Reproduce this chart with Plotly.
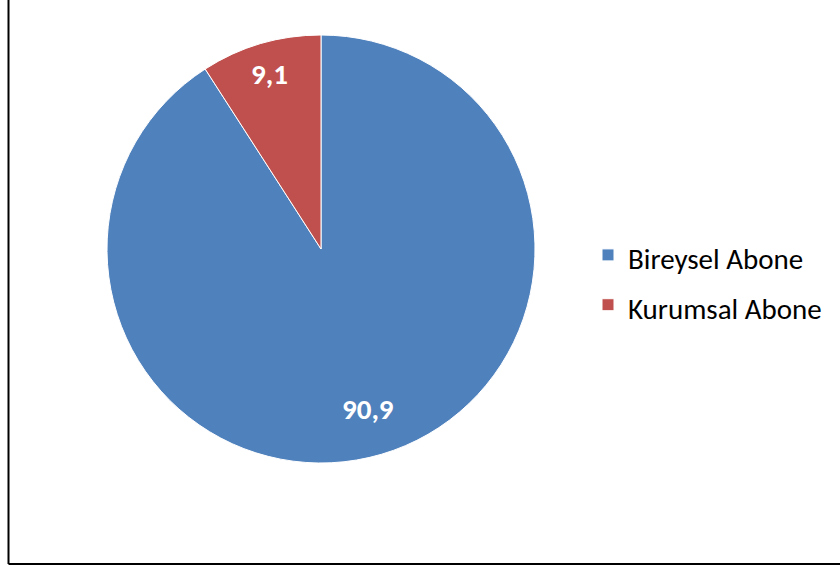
import math
import plotly.graph_objects as go

labels = ["Bireysel Abone", "Kurumsal Abone"]
values = [90.9, 9.1]
colors = ["#4F81BD", "#C0504D"]

W, H = 840, 566
cx, cy, r = 321, 249, 214
FONT = "Carlito, Lato, sans-serif"

legend_labels = ["<span style='font-size:29px'>%s</span>" % s for s in labels]

fig = go.Figure(go.Pie(
    labels=legend_labels, values=values, sort=False, direction="clockwise", rotation=0,
    marker=dict(colors=colors, line=dict(color="white", width=1)),
    textinfo="none",
    domain=dict(x=[(cx - r) / W, (cx + r) / W], y=[(H - cy - r) / H, (H - cy + r) / H]),
    hovertemplate="%{value}<extra></extra>",
))

# data labels placed at each slice's mid-angle
total = sum(values)
label_radius = [0.78, 0.85]
annotations = []
cum = 0.0
for v, f in zip(values, label_radius):
    mid = (cum + v / 2) / total * 2 * math.pi
    cum += v
    x = cx + f * r * math.sin(mid)
    y = cy - f * r * math.cos(mid)
    annotations.append(dict(
        x=x / W, y=(H - y) / H, xref="paper", yref="paper", showarrow=False,
        text=("%.1f" % v).replace(".", ","),
        font=dict(family=FONT, size=29, color="white", weight="bold"),
        xanchor="center", yanchor="middle"))

fig.update_layout(
    width=W, height=H, margin=dict(l=0, r=0, t=0, b=0),
    paper_bgcolor="white", plot_bgcolor="white",
    separators=",.",
    showlegend=True,
    annotations=annotations,
    legend=dict(x=588 / W, y=(H - 280) / H, xanchor="left", yanchor="middle",
                font=dict(family=FONT, size=36, color="black"),
                itemwidth=30, bgcolor="rgba(0,0,0,0)"),
    shapes=[
        dict(type="line", xref="paper", yref="paper", x0=8.5 / W, x1=8.5 / W, y0=1, y1=(H - 564) / H,
             line=dict(color="black", width=2)),
        dict(type="line", xref="paper", yref="paper", x0=8.5 / W, x1=1, y0=(H - 564) / H, y1=(H - 564) / H,
             line=dict(color="black", width=2)),
    ],
)

fig.write_html("out.html", config={"displayModeBar": False},
               post_script="document.body.style.margin='0';document.body.style.overflow='hidden';")
